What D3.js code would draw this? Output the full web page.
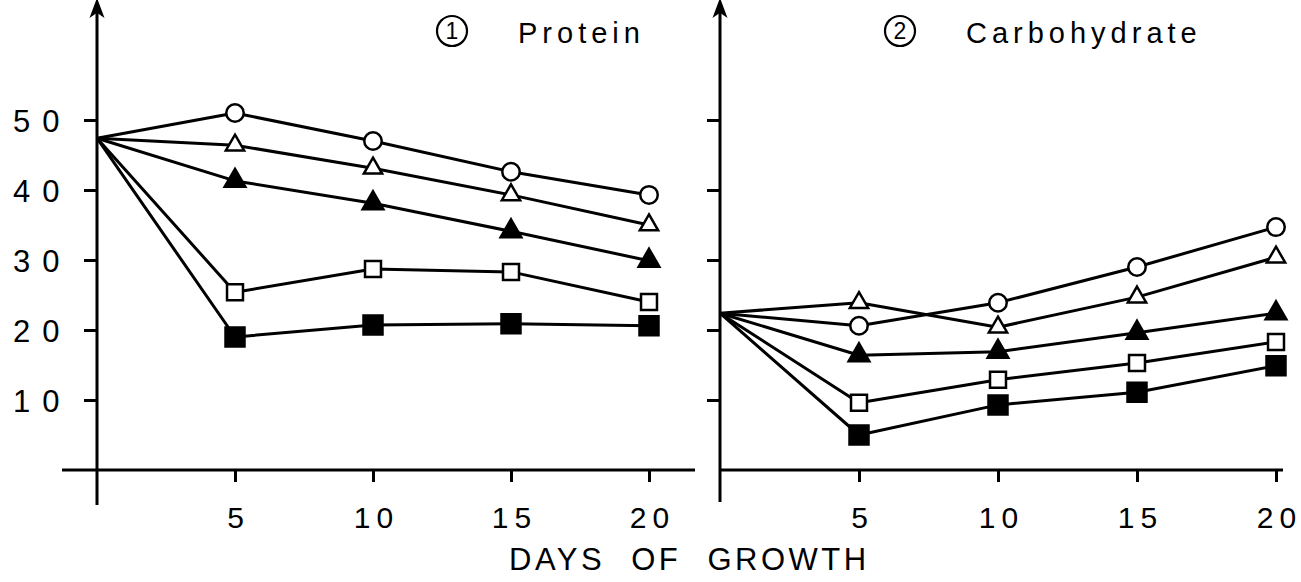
<!DOCTYPE html>
<html><head><meta charset="utf-8">
<script src="https://cdn.jsdelivr.net/npm/d3@7/dist/d3.min.js"></script>
<style>
body{margin:0;background:#fff;}
svg text{font-family:"Liberation Sans",Arial,sans-serif;fill:#000;}
</style></head><body>
<svg id="chart" width="1301" height="582"></svg>
<script>
// ---------- data ----------
const days = [0, 5, 10, 15, 20];
const xTickValues = [5, 10, 15, 20];
const xTickLabels = ["5", "10", "15", "20"];
const yTickValues = [10, 20, 30, 40, 50];
const yTickLabels = ["10", "20", "30", "40", "50"];
const panelTitles = ["Protein", "Carbohydrate"];
const panelNumbers = ["1", "2"];
const xAxisTitle = "DAYS OF GROWTH";
const markerTypes = ["openCircle", "openTriangle", "filledTriangle", "openSquare", "filledSquare"];

// Panel 1: Protein
const proteinOpenCircle     = [47.4, 51.0, 47.0, 42.6, 39.3];
const proteinOpenTriangle   = [47.4, 46.4, 43.1, 39.3, 35.0];
const proteinFilledTriangle = [47.4, 41.3, 38.1, 34.1, 29.9];
const proteinOpenSquare     = [47.4, 25.4, 28.7, 28.3, 24.0];
const proteinFilledSquare   = [47.4, 19.0, 20.7, 20.9, 20.6];

// Panel 2: Carbohydrate
const carbOpenCircle     = [22.4, 20.6, 23.9, 29.0, 34.7];
const carbOpenTriangle   = [22.4, 23.9, 20.4, 24.7, 30.4];
const carbFilledTriangle = [22.4, 16.4, 16.9, 19.6, 22.4];
const carbOpenSquare     = [22.4,  9.6, 12.9, 15.3, 18.3];
const carbFilledSquare   = [22.4,  5.0,  9.3, 11.1, 14.9];

const proteinSeries = [proteinOpenCircle, proteinOpenTriangle, proteinFilledTriangle, proteinOpenSquare, proteinFilledSquare];
const carbSeries = [carbOpenCircle, carbOpenTriangle, carbFilledTriangle, carbOpenSquare, carbFilledSquare];

// ---------- layout ----------
const svg = d3.select("#chart");
const y = d3.scaleLinear().domain([0, 50]).range([470, 120]);
const layouts = [
  {x0: 97, x1: 649, axisLeft: 62, axisRight: 695, yBottom: 505, titleCx: 452, labels: true, series: proteinSeries},
  {x0: 720, x1: 1276, axisLeft: 720, axisRight: 1283, yBottom: 502, titleCx: 900, labels: false, series: carbSeries}
];

const symbolFor = {
  openCircle:     {type: d3.symbolCircle,   size: 240, fill: "#fff"},
  openTriangle:   {type: d3.symbolTriangle, size: 145, fill: "#fff"},
  filledTriangle: {type: d3.symbolTriangle, size: 185, fill: "#000"},
  openSquare:     {type: d3.symbolSquare,   size: 255, fill: "#fff"},
  filledSquare:   {type: d3.symbolSquare,   size: 361, fill: "#000"}
};

layouts.forEach((L, pi) => {
  const x = d3.scaleLinear().domain([0, 20]).range([L.x0, L.x1]);
  const g = svg.append("g");

  // axis lines
  g.append("line").attr("x1", x(0)).attr("x2", x(0)).attr("y1", 6).attr("y2", L.yBottom)
    .attr("stroke", "#000").attr("stroke-width", 3);
  g.append("line").attr("x1", L.axisLeft).attr("x2", L.axisRight).attr("y1", y(0)).attr("y2", y(0))
    .attr("stroke", "#000").attr("stroke-width", 3);
  // arrowhead at top of y axis
  g.append("path")
    .attr("d", `M${x(0)},0 L${x(0) - 6},16 L${x(0)},12 L${x(0) + 6},16 Z`)
    .attr("fill", "#000").attr("stroke", "#000").attr("stroke-width", 1.5);

  // y axis ticks
  const yAxis = d3.axisLeft(y).tickValues(yTickValues).tickSize(13)
    .tickFormat((d, i) => L.labels ? yTickLabels[i] : "");
  const ya = g.append("g").attr("transform", `translate(${x(0)},0)`).call(yAxis);
  ya.select(".domain").remove();
  ya.selectAll(".tick line").attr("stroke", "#000").attr("stroke-width", 3);
  ya.selectAll(".tick text")
    .attr("text-anchor", "start").attr("x", 13 - x(0)).attr("dy", "0.36em")
    .style("font-size", "31px").style("letter-spacing", "12px")
    .style("font-family", "'Liberation Sans', Arial, sans-serif").attr("fill", "#000");

  // x axis ticks
  const xAxis = d3.axisBottom(x).tickValues(xTickValues).tickSize(12).tickPadding(25)
    .tickFormat((d, i) => xTickLabels[i]);
  const xa = g.append("g").attr("transform", `translate(0,${y(0)})`).call(xAxis);
  xa.select(".domain").remove();
  xa.selectAll(".tick line").attr("stroke", "#000").attr("stroke-width", 3);
  xa.selectAll(".tick text")
    .attr("dx", "3px")
    .style("font-size", "30px").style("letter-spacing", "6px")
    .style("font-family", "'Liberation Sans', Arial, sans-serif").attr("fill", "#000");

  // title
  g.append("circle").attr("cx", L.titleCx).attr("cy", 31).attr("r", 15)
    .attr("fill", "none").attr("stroke", "#000").attr("stroke-width", 2.2);
  g.append("text").attr("x", L.titleCx).attr("y", 39).attr("text-anchor", "middle")
    .style("font-size", "23px").text(panelNumbers[pi]);
  g.append("text").attr("x", L.titleCx + 66).attr("y", 43)
    .style("font-size", "29px").style("letter-spacing", "5px").text(panelTitles[pi]);

  // series lines and markers
  const line = d3.line().x(d => x(d.day)).y(d => y(d.value));
  L.series.forEach((vals, si) => {
    const pts = days.map((d, i) => ({day: d, value: vals[i]}));
    g.append("path").datum(pts).attr("d", line)
      .attr("fill", "none").attr("stroke", "#000").attr("stroke-width", 3)
      .attr("stroke-linejoin", "round");
  });
  L.series.forEach((vals, si) => {
    const m = symbolFor[markerTypes[si]];
    const pts = days.map((d, i) => ({day: d, value: vals[i]})).filter(p => p.day > 0);
    g.selectAll(null).data(pts).enter().append("path")
      .attr("transform", p => `translate(${x(p.day)},${y(p.value)})`)
      .attr("d", d3.symbol().type(m.type).size(m.size)())
      .attr("fill", m.fill).attr("stroke", "#000").attr("stroke-width", 2.5);
  });
});

// x axis title
svg.append("text").attr("x", 509).attr("y", 570)
  .style("font-size", "31px").style("letter-spacing", "3.5px").style("word-spacing", "14px")
  .text(xAxisTitle);
</script>
</body></html>
